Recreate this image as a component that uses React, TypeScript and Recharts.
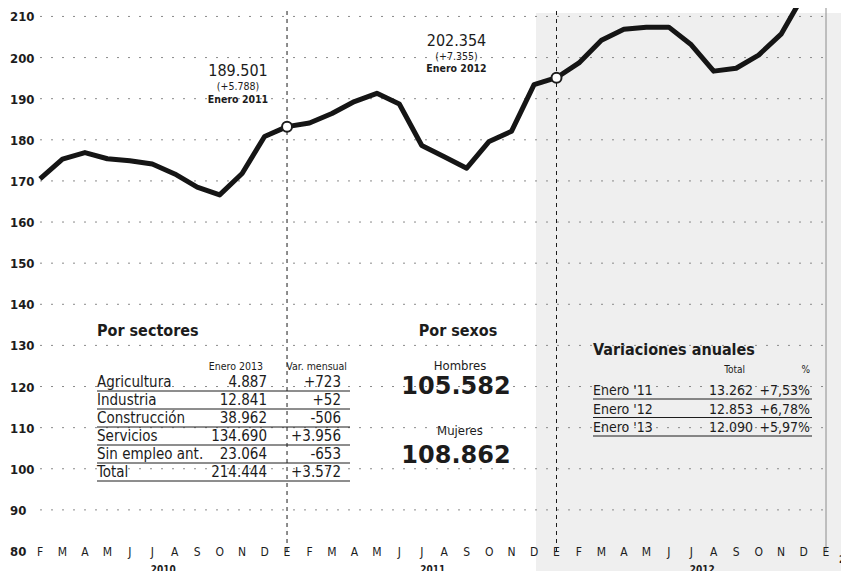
import { LineChart, Line, XAxis, YAxis, CartesianGrid, ReferenceLine } from 'recharts';

// Parados registrados (miles), feb 2010 - ene 2013
const monthLetters = [
  'F', 'M', 'A', 'M', 'J', 'J', 'A', 'S', 'O', 'N', 'D',
  'E', 'F', 'M', 'A', 'M', 'J', 'J', 'A', 'S', 'O', 'N', 'D',
  'E', 'F', 'M', 'A', 'M', 'J', 'J', 'A', 'S', 'O', 'N', 'D',
  'E',
];
const parados = [
  170.5, 175.3, 176.9, 175.4, 174.9, 174.1, 171.7, 168.5, 166.6, 171.8, 180.8,
  183.2, 184.1, 186.4, 189.3, 191.3, 188.7, 178.6, 175.9, 173.1, 179.6, 182.1, 193.4,
  195.1, 198.7, 204.2, 206.9, 207.4, 207.4, 203.1, 196.7, 197.4, 200.6, 205.7, 215.2,
  214.4,
];
const yTicks = [80, 90, 100, 110, 120, 130, 140, 150, 160, 170, 180, 190, 200, 210];
const yearAt = [5, 17, 29, 35];
const yearNames = ['2010', '2011', '2012', '2013'];
const eneroIdx = [11, 23];

const annotIdx = [11, 23, 35];
const annotValue = ['189.501', '202.354', '214.444'];
const annotChange = ['(+5.788)', '(+7.355)', '(+3.572)'];
const annotLabel = ['Enero 2011', 'Enero 2012', 'Enero 2013'];

const sectorNames = ['Agricultura', 'Industria', 'Construcción', 'Servicios', 'Sin empleo ant.', 'Total'];
const sectorValues = ['4.887', '12.841', '38.962', '134.690', '23.064', '214.444'];
const sectorChanges = ['+723', '+52', '-506', '+3.956', '-653', '+3.572'];

const sexLabels = ['Hombres', 'Mujeres'];
const sexValues = ['105.582', '108.862'];

const annualLabels = ["Enero '11", "Enero '12", "Enero '13"];
const annualTotals = ['13.262', '12.853', '12.090'];
const annualPcts = ['+7,53%', '+6,78%', '+5,97%'];

const FONT = '"DejaVu Sans Condensed", "Liberation Sans Narrow", sans-serif';
const INK = '#1c1c1c';

// placement of each annotation relative to its point (value, change, label lines)
const annotPlace = [
  { dx: -49, dy: [-51, -37, -24], circle: true },
  { dx: -100, dy: [-32, -18, -6], circle: true },
  { dx: -78, dy: [-34, 2.5, -20], circle: false },
];

const data = parados.map((v, i) => ({ i, parados: v }));

function XTick(props: any) {
  const { x, y, payload } = props;
  const i = payload.value as number;
  const yi = yearAt.indexOf(i);
  return (
    <g>
      <text x={x} y={y} dy={5} textAnchor="middle" fontSize={12} fill={INK} fontFamily={FONT}>
        {monthLetters[i]}
      </text>
      {yi >= 0 && yi < 3 && (
        <text x={x + 11} y={y + 22} textAnchor="middle" fontSize={10} fontWeight="bold" fill={INK} fontFamily={FONT}>
          {yearNames[yi]}
        </text>
      )}
      {yi === 3 && (
        <text x={x + 13} y={y + 12} textAnchor="start" fontSize={10} fontWeight="bold" fill={INK} fontFamily={FONT}>
          {yearNames[yi]}
        </text>
      )}
    </g>
  );
}

function YTick(props: any) {
  const { y, payload } = props;
  return (
    <text x={10} y={y} dy={5} fontSize={13} fontWeight="bold" fill={INK} fontFamily={FONT}>
      {payload.value}
    </text>
  );
}

function AnnotDot(props: any) {
  const { cx, cy, index } = props;
  const a = annotIdx.indexOf(index);
  if (a < 0) return <g key={`d${index}`} />;
  const p = annotPlace[a];
  return (
    <g key={`d${index}`}>
      {p.circle && <circle cx={cx} cy={cy} r={5} fill="#fff" stroke={INK} strokeWidth={2} />}
      <text x={cx + p.dx} y={cy + p.dy[0]} textAnchor="middle" fontSize={16} fill={INK} fontFamily={FONT}>
        {annotValue[a]}
      </text>
      <text x={cx + p.dx} y={cy + p.dy[1]} textAnchor="middle" fontSize={10.5} fill={INK} fontFamily={FONT}>
        {annotChange[a]}
      </text>
      <text x={cx + p.dx} y={cy + p.dy[2]} textAnchor="middle" fontSize={10.5} fontWeight="bold" fill={INK} fontFamily={FONT}>
        {annotLabel[a]}
      </text>
    </g>
  );
}

function Tables() {
  return (
    <svg width={849} height={579} style={{ position: 'absolute', left: 0, top: 0, pointerEvents: 'none' }} fontFamily={FONT} fill={INK}>
      {/* Por sectores */}
      <text x={97} y={336} fontSize={16} fontWeight="bold">Por sectores</text>
      <text x={263} y={370} fontSize={10.5} textAnchor="end">Enero 2013</text>
      <text x={347} y={370} fontSize={10.5} textAnchor="end">Var. mensual</text>
      {sectorNames.map((n, r) => {
        const by = 387 + r * 18;
        return (
          <g key={n}>
            <text x={97} y={by} fontSize={15}>{n}</text>
            <text x={267} y={by} fontSize={15} textAnchor="end">{sectorValues[r]}</text>
            <text x={341} y={by} fontSize={15} textAnchor="end">{sectorChanges[r]}</text>
            <line x1={97} x2={350} y1={by + 4} y2={by + 4} stroke={INK} strokeWidth={1} />
          </g>
        );
      })}

      {/* Por sexos */}
      <text x={458} y={336} fontSize={16} fontWeight="bold" textAnchor="middle">Por sexos</text>
      {sexLabels.map((s, r) => (
        <g key={s}>
          <text x={460} y={370 + r * 65} fontSize={13} textAnchor="middle">{s}</text>
          <text x={456} y={394 + r * 69} fontSize={24} fontWeight="bold" textAnchor="middle" fontFamily='"DejaVu Sans", sans-serif'>
            {sexValues[r]}
          </text>
        </g>
      ))}

      {/* Variaciones anuales */}
      <text x={593} y={355} fontSize={16} fontWeight="bold">Variaciones anuales</text>
      <text x={745} y={373} fontSize={10} textAnchor="end">Total</text>
      <text x={810} y={373} fontSize={10} textAnchor="end">%</text>
      {annualLabels.map((n, r) => {
        const by = 395 + r * 18.5;
        return (
          <g key={n}>
            <text x={593} y={by} fontSize={14}>{n}</text>
            <text x={753} y={by} fontSize={14} textAnchor="end">{annualTotals[r]}</text>
            <text x={810} y={by} fontSize={14} textAnchor="end">{annualPcts[r]}</text>
            <line x1={593} x2={812} y1={by + 4} y2={by + 4} stroke={INK} strokeWidth={1} />
          </g>
        );
      })}
    </svg>
  );
}

export default function App() {
  return (
    <div style={{ position: 'relative', width: 849, height: 579, margin: -8, background: '#fff', overflow: 'hidden' }}>
      {/* tinted scan area behind 2012 */}
      <div style={{ position: 'absolute', left: 536, top: 13, width: 313, height: 566, background: '#efefef' }} />
      <div style={{ position: 'absolute', left: 0, top: 0 }}>
        <LineChart width={849} height={579} data={data} margin={{ top: 0, right: 23, bottom: 0, left: 0 }}>
          <CartesianGrid
            vertical={false}
            horizontalValues={yTicks.slice(1)}
            stroke="#8a8a8a"
            strokeDasharray="2 9"
          />
          <XAxis
            type="number"
            dataKey="i"
            domain={[0, 35]}
            ticks={data.map((d) => d.i)}
            interval={0}
            axisLine={false}
            tickLine={false}
            tickSize={0}
            tickMargin={0}
            height={28}
            tick={(p: any) => <XTick {...p} />}
          />
          <YAxis
            type="number"
            domain={[80, 214]}
            ticks={yTicks}
            allowDataOverflow
            width={40}
            axisLine={false}
            tickLine={false}
            tick={(p: any) => <YTick {...p} />}
          />
          {eneroIdx.map((x) => (
            <ReferenceLine key={x} x={x} stroke={INK} strokeWidth={1} strokeDasharray="4 4" />
          ))}
          <ReferenceLine x={35} stroke="#8c8c8c" strokeWidth={1} />
          <Line
            type="linear"
            dataKey="parados"
            stroke="#151515"
            strokeWidth={5}
            strokeLinejoin="round"
            dot={(p: any) => <AnnotDot {...p} />}
            activeDot={false}
            isAnimationActive={false}
          />
        </LineChart>
      </div>
      <Tables />
    </div>
  );
}
